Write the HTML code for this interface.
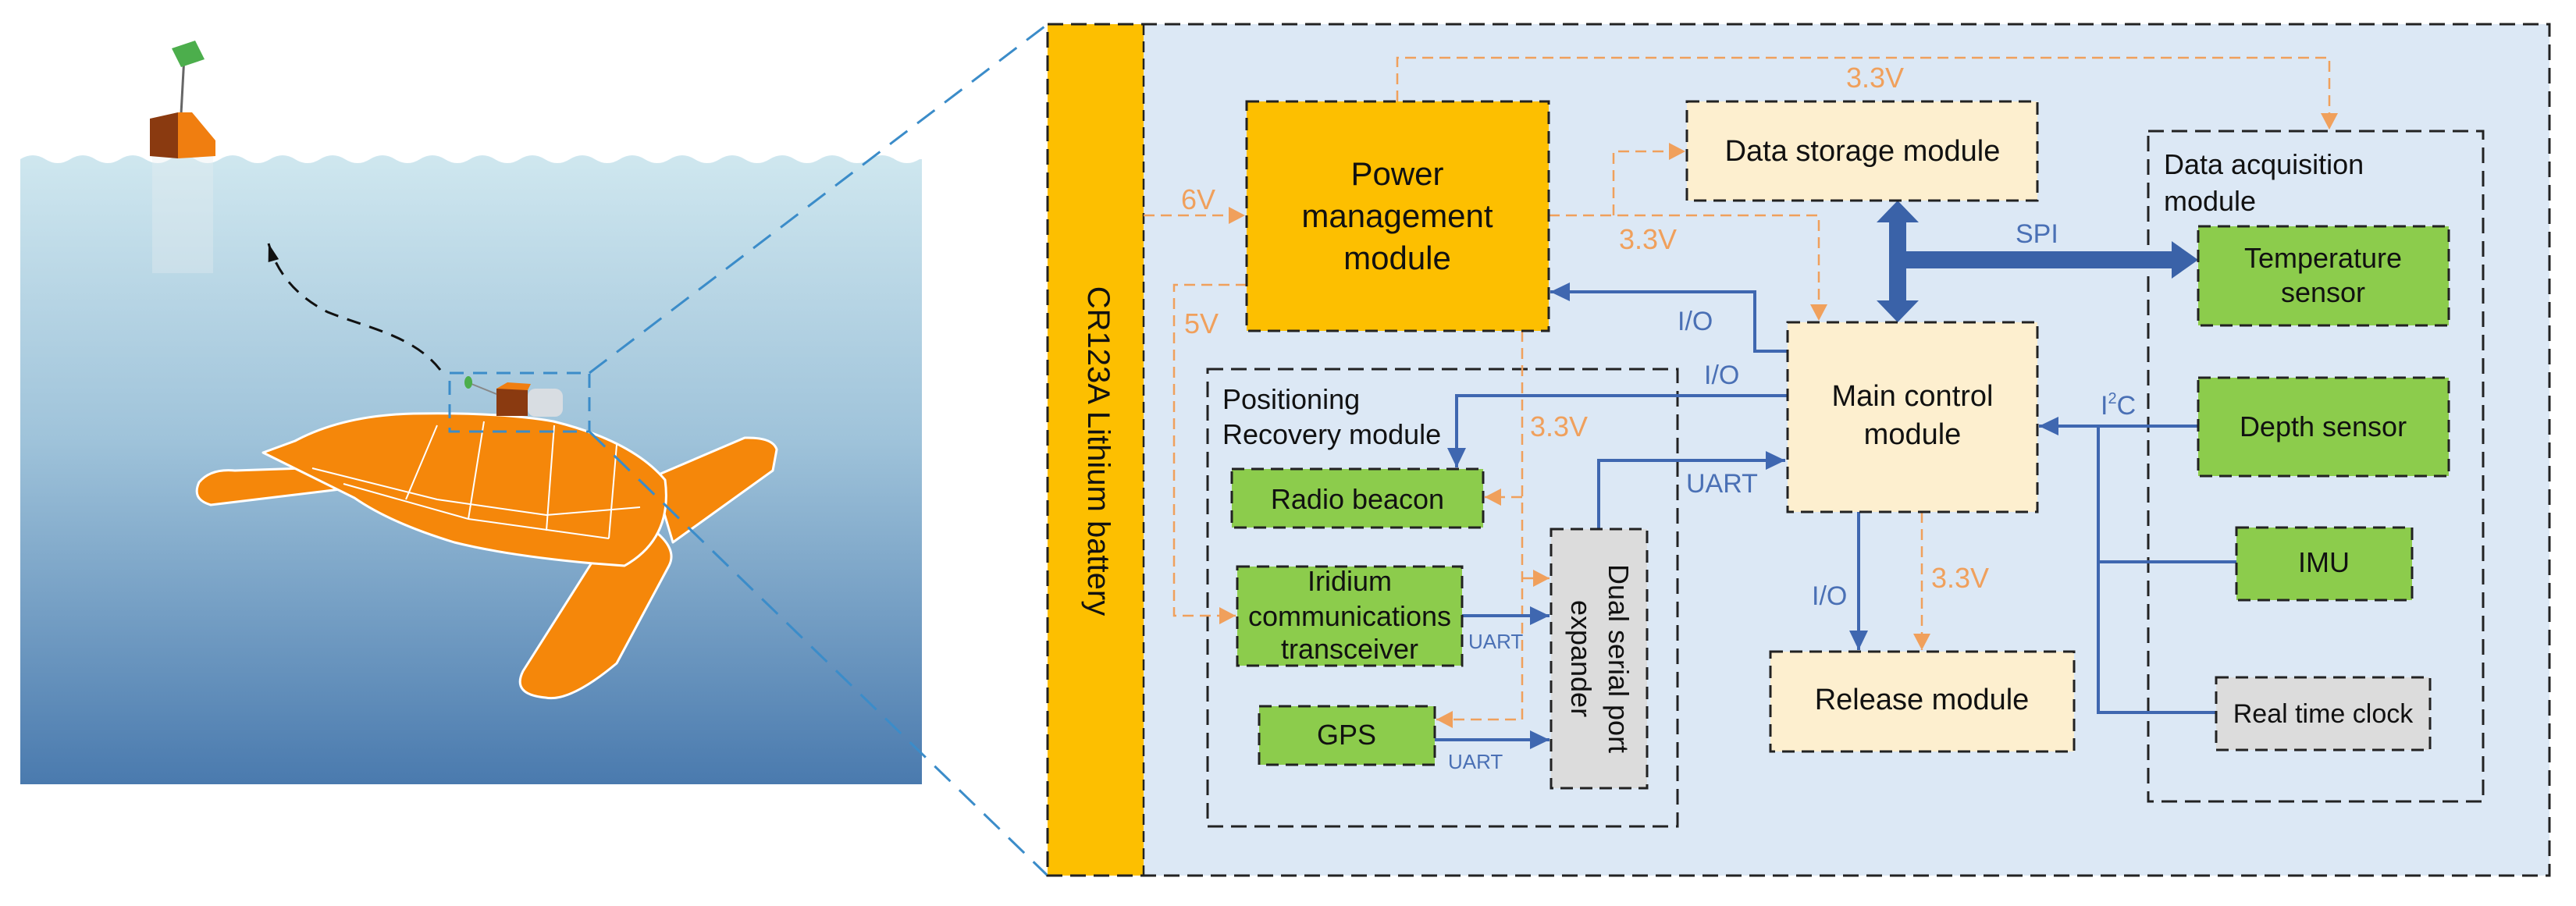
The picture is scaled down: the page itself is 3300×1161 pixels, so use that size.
<!DOCTYPE html>
<html><head><meta charset="utf-8"><style>
html,body{margin:0;padding:0;background:#fff;}
svg{display:block;}
text{font-family:"Liberation Sans",Arial,sans-serif;}
</style></head><body>
<svg width="3300" height="1161" viewBox="0 0 3300 1161" xmlns="http://www.w3.org/2000/svg">
<defs>
<linearGradient id="sea" x1="0" y1="0" x2="0" y2="1">
<stop offset="0" stop-color="#cfe7ef"/><stop offset="0.45" stop-color="#9fc3da"/><stop offset="1" stop-color="#4a7aae"/>
</linearGradient>
<marker id="ao" markerWidth="10" markerHeight="10" refX="9" refY="5" orient="auto" markerUnits="userSpaceOnUse" viewBox="0 0 10 10" style="overflow:visible">
<path d="M-12,-6 L9,5 L-12,16 Z" fill="#f0a05c"/></marker>
<marker id="ab" markerWidth="10" markerHeight="10" refX="9" refY="5" orient="auto" markerUnits="userSpaceOnUse" viewBox="0 0 10 10" style="overflow:visible">
<path d="M-16,-7 L9,5 L-16,17 Z" fill="#3f67b0"/></marker>
<marker id="ak" markerWidth="10" markerHeight="10" refX="9" refY="5" orient="auto" markerUnits="userSpaceOnUse" viewBox="0 0 10 10" style="overflow:visible">
<path d="M-14,-2 L9,5 L-14,12 Z" fill="#111"/></marker>
</defs>

<!-- LEFT PANEL -->
<path d="M26,204 q16,-10 32,0 t32,0 t32,0 t32,0 t32,0 t32,0 t32,0 t32,0 t32,0 t32,0 t32,0 t32,0 t32,0 t32,0 t32,0 t32,0 t32,0 t32,0 t32,0 t32,0 t32,0 t32,0 t32,0 t32,0 t32,0 t32,0 t32,0 t32,0 t32,0 t32,0 t32,0 t32,0 t32,0 t32,0 t32,0 t32,0 L1181,204 L1181,1005 L26,1005 Z" fill="url(#sea)"/>
<rect x="195" y="200" width="78" height="150" fill="#e8eef0" opacity="0.35"/>
<line x1="232" y1="146" x2="236" y2="72" stroke="#666" stroke-width="3"/>
<polygon points="220,62 250,52 262,76 232,86" fill="#4cae4c"/>
<polygon points="192,152 228,144 228,203 192,200" fill="#8a3a10"/>
<polygon points="228,144 246,144 276,180 276,200 228,203" fill="#f07e10"/>
<path d="M564,474 C530,430 470,420 420,400 C380,380 355,350 344,312" fill="none" stroke="#111" stroke-width="3" stroke-dasharray="18,12" marker-end="url(#ak)"/>
<g fill="#f5870a" stroke="#fff" stroke-width="3" stroke-linejoin="round">
<path d="M760,664 L827,672 Q870,700 857,725 L790,850 Q730,900 699,894 Q655,890 670,860 L760,718 Z"/>
<path d="M837,611 L954,561 Q990,560 995,576 L990,603 L862,695 Z"/>
<path d="M255,618 Q270,600 301,603 L418,599 L444,626 L270,647 Q245,640 255,618 Z"/>
<path d="M337,580 L378,565 Q440,532 530,530 Q640,528 709,540 Q810,565 852,615 Q862,690 800,725 L760,722 Q650,712 582,695 Q500,670 454,638 Z"/>
</g>
<g stroke="#fff" stroke-width="2" fill="none">
<path d="M400,600 L560,640 L700,660 L820,650"/><path d="M440,620 L600,665 L780,690"/>
<path d="M560,545 L520,640"/><path d="M620,540 L600,665"/><path d="M710,545 L700,680"/><path d="M790,570 L780,690"/>
</g>
<rect x="636" y="498" width="40" height="35" fill="#8a3a10"/>
<polygon points="636,498 650,490 680,492 676,500" fill="#f07e10"/>
<rect x="676" y="498" width="45" height="36" rx="10" fill="#d8dde2"/>
<line x1="636" y1="505" x2="604" y2="492" stroke="#888" stroke-width="2"/>
<ellipse cx="600" cy="490" rx="5" ry="8" fill="#4cae4c"/>
<rect x="576" y="478" width="179" height="75" fill="none" stroke="#3b8cc9" stroke-width="3" stroke-dasharray="18,12"/>
<line x1="755" y1="478" x2="1342" y2="31" stroke="#3b8cc9" stroke-width="3" stroke-dasharray="28,16"/>
<line x1="755" y1="553" x2="1342" y2="1122" stroke="#3b8cc9" stroke-width="3" stroke-dasharray="28,16"/>

<!-- DIAGRAM -->
<rect x="1342" y="31" width="1924" height="1091" fill="#dce8f5"/>
<rect x="1342" y="31" width="123" height="1091" fill="#fdbf00"/>
<line x1="1465" y1="31" x2="1465" y2="1122" stroke="#222" stroke-width="2.5" stroke-dasharray="14,8"/>
<rect x="1342" y="31" width="1924" height="1091" fill="none" stroke="#222" stroke-width="3" stroke-dasharray="20,10"/>
<text x="0" y="0" transform="translate(1394,578) rotate(90)" text-anchor="middle" font-size="40" fill="#111">CR123A Lithium battery</text>

<rect x="1547" y="473" width="602" height="586" fill="none" stroke="#222" stroke-width="3" stroke-dasharray="20,10"/>
<text x="1566" y="524" font-size="36" fill="#111">Positioning</text>
<text x="1566" y="569" font-size="36" fill="#111">Recovery module</text>
<rect x="2752" y="168" width="429" height="859" fill="none" stroke="#222" stroke-width="3" stroke-dasharray="20,10"/>
<text x="2772" y="223" font-size="36" fill="#111">Data acquisition</text>
<text x="2772" y="270" font-size="36" fill="#111">module</text>

<g fill="none" stroke="#f0a05c" stroke-width="2.5" stroke-dasharray="14,8">
<path d="M1465,276 L1595,276" marker-end="url(#ao)"/>
<path d="M1790,130 L1790,74 L2984,74 L2984,166" marker-end="url(#ao)"/>
<path d="M1984,276 L2330,276 L2330,411" marker-end="url(#ao)"/>
<path d="M2067,276 L2067,194 L2159,194" marker-end="url(#ao)"/>
<path d="M1597,365 L1504,365 L1504,789 L1583,789" marker-end="url(#ao)"/>
<path d="M1950,424 L1950,922 L1840,922" marker-end="url(#ao)"/>
<path d="M1950,637 L1902,637" marker-end="url(#ao)"/>
<path d="M1950,741 L1985,741" marker-end="url(#ao)"/>
<path d="M2462,656 L2462,833" marker-end="url(#ao)"/>
</g>
<g font-size="36" fill="#f0a05c">
<text x="1513" y="268">6V</text>
<text x="2365" y="112">3.3V</text>
<text x="2074" y="319">3.3V</text>
<text x="1517" y="427">5V</text>
<text x="1960" y="559">3.3V</text>
<text x="2474" y="753">3.3V</text>
</g>

<g fill="none" stroke="#3f67b0" stroke-width="4">
<path d="M2289,450 L2248,450 L2248,374 L1986,374" marker-end="url(#ab)"/>
<path d="M2289,507 L1866,507 L1866,599" marker-end="url(#ab)"/>
<path d="M2048,678 L2048,590 L2287,590" marker-end="url(#ab)"/>
<path d="M1873,789 L1985,789" marker-end="url(#ab)"/>
<path d="M1838,948 L1985,948" marker-end="url(#ab)"/>
<path d="M2381,656 L2381,833" marker-end="url(#ab)"/>
<path d="M2816,546 L2612,546" marker-end="url(#ab)"/>
<path d="M2688,546 L2688,913 L2839,913 M2688,720 L2865,720"/>
</g>
<g fill="#4a70b5">
<text x="2149" y="423" font-size="34">I/O</text>
<text x="2183" y="492" font-size="34">I/O</text>
<text x="2160" y="631" font-size="34">UART</text>
<text x="1881" y="831" font-size="26">UART</text>
<text x="1855" y="985" font-size="26">UART</text>
<text x="2321" y="775" font-size="34">I/O</text>
<text x="2691" y="531" font-size="34">I<tspan font-size="20" dy="-14">2</tspan><tspan dy="14">C</tspan></text>
<text x="2582" y="311" font-size="34">SPI</text>
</g>
<g fill="#3a62a8">
<polygon points="2431,257 2458,285 2442,285 2442,385 2458,385 2431,413 2404,385 2420,385 2420,285 2404,285"/>
<rect x="2431" y="322" width="352" height="22"/>
<polygon points="2782,309 2816,333 2782,357"/>
</g>

<g stroke="#222" stroke-width="3" stroke-dasharray="16,9">
<rect x="1597" y="130" width="387" height="294" fill="#fdbf00"/>
<rect x="2161" y="130" width="449" height="127" fill="#fdefcf"/>
<rect x="2290" y="413" width="320" height="243" fill="#fdefcf"/>
<rect x="2268" y="835" width="389" height="128" fill="#fdefcf"/>
<rect x="2816" y="290" width="321" height="127" fill="#8ccc4c"/>
<rect x="2816" y="484" width="321" height="126" fill="#8ccc4c"/>
<rect x="2865" y="676" width="225" height="93" fill="#8ccc4c"/>
<rect x="2839" y="868" width="274" height="93" fill="#dcdcdc"/>
<rect x="1578" y="601" width="322" height="75" fill="#8ccc4c"/>
<rect x="1585" y="726" width="288" height="127" fill="#8ccc4c"/>
<rect x="1613" y="905" width="225" height="75" fill="#8ccc4c"/>
<rect x="1987" y="678" width="123" height="332" fill="#dcdcdc"/>
</g>
<g fill="#111" text-anchor="middle">
<text x="1790" y="237" font-size="42">Power</text>
<text x="1790" y="291" font-size="42">management</text>
<text x="1790" y="345" font-size="42">module</text>
<text x="2386" y="206" font-size="38">Data storage module</text>
<text x="2450" y="520" font-size="38">Main control</text>
<text x="2450" y="569" font-size="38">module</text>
<text x="2462" y="909" font-size="38">Release module</text>
<text x="2976" y="343" font-size="36">Temperature</text>
<text x="2976" y="387" font-size="36">sensor</text>
<text x="2976" y="559" font-size="36">Depth sensor</text>
<text x="2977" y="733" font-size="36">IMU</text>
<text x="2976" y="926" font-size="34">Real time clock</text>
<text x="1739" y="652" font-size="36">Radio beacon</text>
<text x="1729" y="757" font-size="36">Iridium</text>
<text x="1729" y="802" font-size="36">communications</text>
<text x="1729" y="844" font-size="36">transceiver</text>
<text x="1725" y="954" font-size="36">GPS</text>
<text transform="translate(2061,844) rotate(90)" font-size="36">Dual serial port</text>
<text transform="translate(2013,844) rotate(90)" font-size="36">expander</text>
</g>
</svg>
</body></html>
